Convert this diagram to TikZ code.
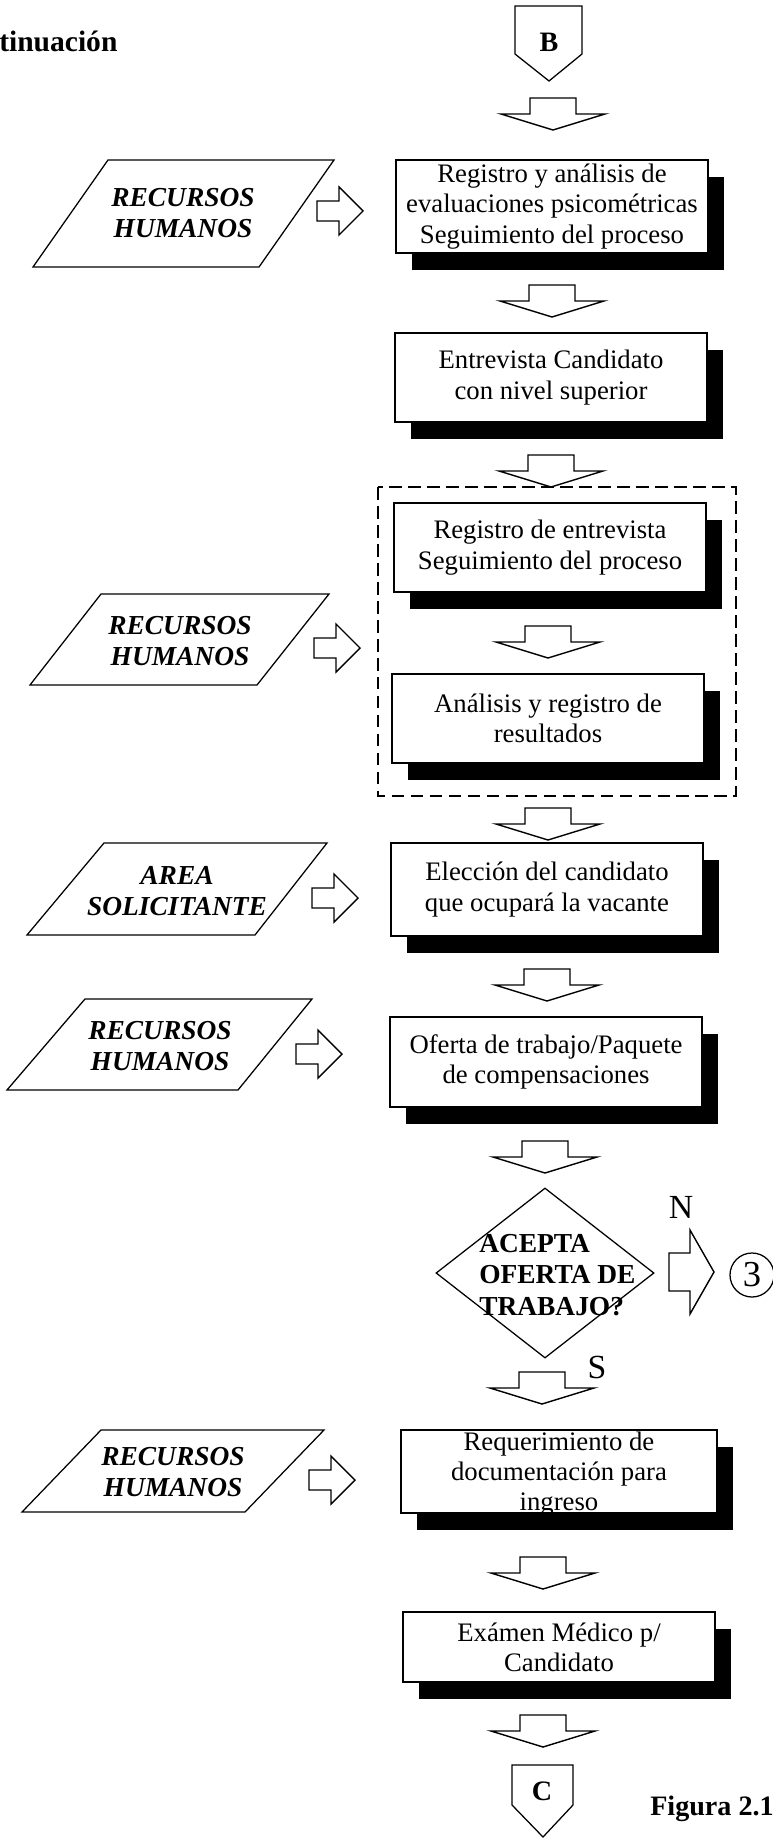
\documentclass[tikz,border=0pt]{standalone}
\usepackage{fontspec}
\setmainfont{Liberation Serif}
\usetikzlibrary{shapes}
\usetikzlibrary{shadows}

\tikzset{
procbox/.style={draw, line width=0.8pt, fill=white, minimum width=7.8cm, inner sep=1pt, align=center,
  font=\fontsize{19}{21.5}\selectfont,
  drop shadow={shadow xshift=0.4cm, shadow yshift=-0.425cm, fill=black, opacity=1}},
boxtext/.style={align=center, inner sep=0pt, font=\fontsize{19}{21.5}\selectfont},
intext/.style={align=center, inner sep=0pt, font=\bfseries\itshape\fontsize{19.5}{22}\selectfont},
dectext/.style={align=left, inner sep=0pt, font=\bfseries\fontsize{19.5}{22.5}\selectfont},
lettxt/.style={inner sep=0pt, font=\bfseries\fontsize{20}{24}\selectfont},
bigtxt/.style={inner sep=0pt, font=\fontsize{24}{28}\selectfont},
inline/.style={line width=0.9pt, line join=miter},
blkline/.style={line width=1pt, line join=miter},
pics/downblk/.style={code={
  \draw[blkline] (-23,0) -- (23,0) -- (23,16) -- (52,16) -- (0,32) -- (-52,16) -- (-23,16) -- cycle;}},
pics/rightblk/.style={code={
  \draw[blkline] (0,-10) -- (22,-10) -- (22,-24) -- (46,0) -- (22,24) -- (22,10) -- (0,10) -- cycle;}}
}

\begin{document}
\begin{tikzpicture}[x=0.025cm, y=-0.025cm]

\useasboundingbox (0,0) rectangle (772,1839);

%Draw headings
\node[anchor=base west, inner sep=0pt, font=\bfseries\fontsize{21}{25}\selectfont] (ttl) at (-1,52) {tinuación};
\node[anchor=base west, inner sep=0pt, font=\bfseries\fontsize{20}{24}\selectfont] (fig) at (650,1815) {Figura 2.1};

%Draw connectors B and C
\draw[inline] (515,6) -- (582,6) -- (582,54) -- (549,81) -- (515,54) -- cycle;
\node[lettxt] (conb) at (549,42) {B};
\draw[inline] (512,1765) -- (573,1765) -- (573,1805) -- (543,1837) -- (512,1805) -- cycle;
\node[lettxt] (conc) at (542,1791) {C};

%Draw process boxes
\node[procbox, minimum height=2.325cm] (evalpsi) at (552,206.5) {Registro y análisis de\\evaluaciones psicométricas\\Seguimiento del proceso};
\node[procbox, minimum height=2.225cm] (entrev) at (551,377.5) {Entrevista Candidato\\con nivel superior};
\node[procbox, minimum height=2.225cm] (regent) at (550,547.5) {Registro de entrevista\\Seguimiento del proceso};
\node[procbox, minimum height=2.225cm] (analres) at (548,718.5) {Análisis y registro de\\resultados};
\node[procbox, minimum height=2.325cm] (eleccion) at (547,889.5) {Elección del candidato\\que ocupará la vacante};
\node[procbox, minimum height=2.25cm] (oferta) at (546,1062) {Oferta de trabajo/Paquete\\de compensaciones};
\node[procbox, minimum height=2.075cm, minimum width=7.9cm] (req) at (559,1471.5) {};
\node[boxtext] (reqtxt) at (559,1474) {Requerimiento de\\documentación para\\ingreso};
\node[procbox, minimum height=1.75cm] (examen) at (559,1647) {Exámen Médico p/\\Candidato};

%Draw dashed group
\draw[line width=1.1pt, dash pattern=on 9pt off 4.5pt] (378,487) rectangle (736,796);

%Draw inputs
\draw[inline] (33,267) -- (108,160) -- (334,160) -- (259,267) -- cycle;
\node[intext] (rh1) at (183,213) {RECURSOS\\HUMANOS};
\draw[inline] (30,685) -- (101,594) -- (329,594) -- (257,685) -- cycle;
\node[intext] (rh2) at (180,641) {RECURSOS\\HUMANOS};
\draw[inline] (27,935) -- (104,843) -- (327,843) -- (255,935) -- cycle;
\node[intext] (area) at (177,891) {AREA\\SOLICITANTE};
\draw[inline] (7,1090) -- (85,999) -- (312,999) -- (238,1090) -- cycle;
\node[intext] (rh3) at (160,1046) {RECURSOS\\HUMANOS};
\draw[inline] (22,1512) -- (101,1430) -- (324,1430) -- (245,1512) -- cycle;
\node[intext] (rh4) at (173,1472) {RECURSOS\\HUMANOS};

%Draw decision
\node[draw, diamond, line width=0.9pt, minimum width=5.45cm, minimum height=4.25cm, inner sep=0pt] (acepta) at (545,1273) {};
\node[dectext, anchor=west] (aceptatxt) at (479,1275) {ACEPTA\\OFERTA DE\\TRABAJO?};
\node[bigtxt] (lbln) at (681,1207) {N};
\node[bigtxt] (lbls) at (597,1367) {S};
\draw[blkline] (669,1253) -- (690,1253) -- (690,1230) -- (714,1272) -- (690,1314) -- (690,1291) -- (669,1291) -- cycle;
\node[draw, circle, line width=0.9pt, minimum size=1.1cm, inner sep=0pt, font=\fontsize{26}{30}\selectfont] (out3) at (752,1275) {3};

%Draw block arrows down
\foreach \px/\py in {553/98, 552/285, 551/455, 548/626, 548/808, 547/969, 545/1141, 542/1372, 543/1557, 543/1715} {
\pic at (\px,\py) {downblk};
}

%Draw block arrows right
\foreach \px/\py in {317/211, 314/648, 312/898, 296/1054, 309/1480} {
\pic at (\px,\py) {rightblk};
}

\end{tikzpicture}
\end{document}
